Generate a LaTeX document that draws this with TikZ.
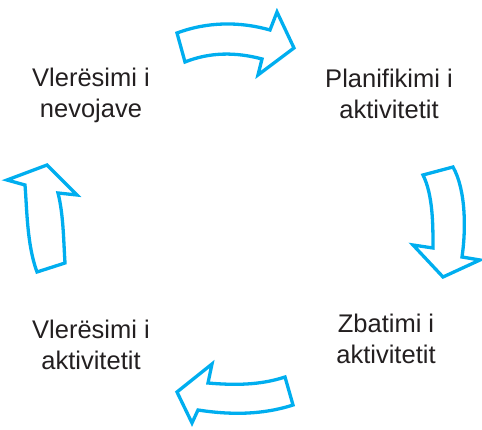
\documentclass[tikz,border=0pt]{standalone}
\usepackage{fontspec}
\setmainfont{Liberation Sans}
\definecolor{arrowcyan}{HTML}{00AEEF}
\definecolor{txt}{HTML}{231F20}
\begin{document}
\begin{tikzpicture}[x=1pt,y=-1pt,
  blockarrow/.style={draw=arrowcyan,line width=3.3pt,line join=miter,fill=white},
  label/.style={align=center,anchor=base,text=txt,inner sep=0pt,
    font=\fontsize{25.5}{31}\selectfont}]
\useasboundingbox (0,0) rectangle (482,430);
% labels (anchored at the baseline of the last line)
\node[label] (needs) at (91,118) {Vlerësimi i\\nevojave};
\node[label] (plan) at (389,119) {Planifikimi i\\aktivitetit};
\node[label] (impl) at (386,363) {Zbatimi i\\aktivitetit};
\node[label] (eval) at (91,369) {Vlerësimi i\\aktivitetit};
% top arrow
\draw[blockarrow] (177,33) .. controls (208,21.5) and (240,21.5) .. (270,30)
  -- (277,12) -- (294,48) -- (258,75) -- (262,59)
  .. controls (236,52) and (210,52) .. (185,62) -- cycle;
% right arrow
\draw[blockarrow] (423,175) -- (453,167)
  .. controls (466,190) and (466,230) .. (462,257)
  -- (480,260) -- (443,277) -- (413,245) -- (433,248)
  .. controls (433,225) and (433,195) .. (423,175) -- cycle;
% bottom arrow
\draw[blockarrow] (285,377) -- (293,405)
  .. controls (262,415) and (230,415) .. (198,410)
  -- (192,423) -- (177,392) -- (212,364) -- (208,383)
  .. controls (234,385.3) and (260,385.3) .. (285,377) -- cycle;
% left arrow
\draw[blockarrow] (37,272) -- (65,263)
  .. controls (63.5,240) and (63.5,215) .. (58,193)
  -- (77,195) -- (47,165) -- (7,180) -- (25,185)
  .. controls (27,210) and (27,245) .. (37,272) -- cycle;
\end{tikzpicture}
\end{document}
